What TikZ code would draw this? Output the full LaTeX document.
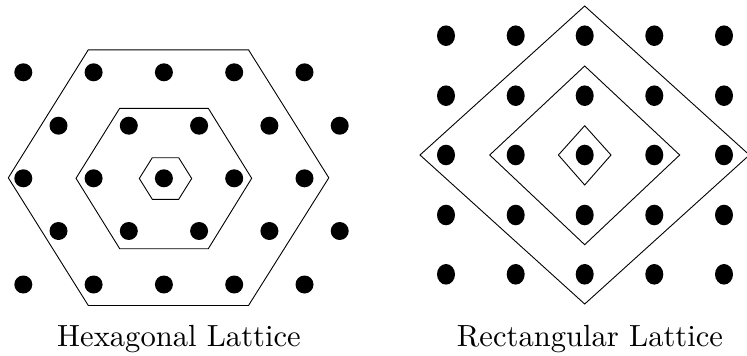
\documentclass[tikz,border=0pt]{standalone}
\usepackage{fontspec}
\setmainfont{lmroman10-regular}[Extension=.otf]
\begin{document}
\begin{tikzpicture}[x=1pt,y=-1pt,
  edge/.style={draw=black,line width=0.9pt,line join=miter},
  hexdot/.style={fill=black},
  caption/.style={anchor=base,inner sep=0pt,font=\fontsize{30.6}{36}\selectfont}]
\useasboundingbox (0,0) rectangle (747,356);
\clip (0,0) rectangle (747,356);
% ---------- Hexagonal lattice ----------
\foreach \r/\y in {0/72.3,2/178.3,4/284.5}{
  \foreach \x in {23.3,93.6,163.9,234.2,304.5}{
    \fill[hexdot] (\x,\y) circle[radius=9pt];
  }}
\foreach \y in {125.7,231}{
  \foreach \x in {58.5,128.8,199.1,269.4,339.7}{
    \fill[hexdot] (\x,\y) circle[radius=9pt];
  }}
\draw[edge] (8.3,177.8) -- (88.3,49.8) -- (248.5,49.8) -- (328.8,177.8) -- (248.5,305.5) -- (88.3,305.5) -- cycle;
\draw[edge] (76,178.3) -- (119.7,108.3) -- (208.3,108.3) -- (251.7,178.3) -- (208.3,248.7) -- (119.7,248.7) -- cycle;
\draw[edge] (139.3,178.5) -- (152.3,157.7) -- (178.7,157.7) -- (191.7,178.5) -- (178.7,199.3) -- (152.3,199.3) -- cycle;
\node[caption] (hexcap) at (179,346.7) {Hexagonal Lattice};
% ---------- Rectangular lattice ----------
\foreach \y in {35.7,95.7,155,215,274.3}{
  \foreach \x in {446,515.7,584.7,654.3,724}{
    \fill[hexdot] (\x,\y) ellipse[x radius=9pt,y radius=10.3pt];
  }}
\draw[edge] (420,155) -- (584.7,6) -- (749.4,155) -- (584.7,304) -- cycle;
\draw[edge] (489.7,155) -- (584.7,66) -- (679.7,155) -- (584.7,244.7) -- cycle;
\draw[edge] (558.4,155) -- (584.7,125.7) -- (611,155) -- (584.7,185) -- cycle;
\node[caption] (rectcap) at (590,346.7) {Rectangular Lattice};
\end{tikzpicture}
\end{document}
